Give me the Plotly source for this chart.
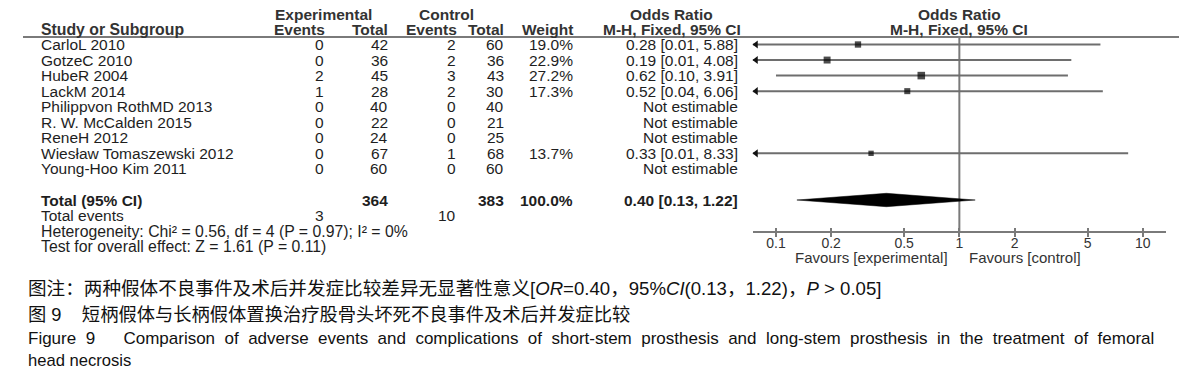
import plotly.graph_objects as go
import math

W, H = 1179, 386

# ---------------- data ----------------
studies = ["CarloL 2010", "GotzeC 2010", "HubeR 2004", "LackM 2014",
           "Philippvon RothMD 2013", "R. W. McCalden 2015", "ReneH 2012",
           "Wiesław Tomaszewski 2012", "Young-Hoo Kim 2011"]
exp_events = [0, 0, 2, 1, 0, 0, 0, 0, 0]
exp_total = [42, 36, 45, 28, 40, 22, 24, 67, 60]
ctrl_events = [2, 2, 3, 2, 0, 0, 0, 1, 0]
ctrl_total = [60, 36, 43, 30, 40, 21, 25, 68, 60]
weights = [19.0, 22.9, 27.2, 17.3, None, None, None, 13.7, None]
odds_ratio = [0.28, 0.19, 0.62, 0.52, None, None, None, 0.33, None]
ci_low = [0.01, 0.01, 0.10, 0.04, None, None, None, 0.01, None]
ci_high = [5.88, 4.08, 3.91, 6.06, None, None, None, 8.33, None]

total_exp, total_ctrl = 364, 383
total_events_exp, total_events_ctrl = 3, 10
pooled_or, pooled_lo, pooled_hi = 0.40, 0.13, 1.22
heterogeneity = "Heterogeneity: Chi² = 0.56, df = 4 (P = 0.97); I² = 0%"
overall = "Test for overall effect: Z = 1.61 (P = 0.11)"

tick_vals = [0.1, 0.2, 0.5, 1, 2, 5, 10]
tick_text = ["0.1", "0.2", "0.5", "1", "2", "5", "10"]

caption_cn = "图注：两种假体不良事件及术后并发症比较差异无显著性意义[<i>OR</i>=0.40，95%<i>CI</i>(0.13，1.22)，<i>P</i> > 0.05]"
caption_cn2 = "图 9    短柄假体与长柄假体置换治疗股骨头坏死不良事件及术后并发症比较"
caption_en = "Figure 9    Comparison of adverse events and complications of short-stem prosthesis and long-stem prosthesis in the treatment of femoral"
caption_en2 = "head necrosis"

# ---------------- layout helpers ----------------
FONT = "Liberation Sans, Arial, Noto Sans CJK SC, sans-serif"
TXT = "#1e1e1e"
HDR = "#333333"
GRAY = "#7a7a7a"
FS = 15.5
FH = 15.5

ROW0_PX, ROW_H = 44.5, 15.55          # pixel y of first study row, row spacing
def px2row(py):
    return (py - ROW0_PX) / ROW_H

X_LEFT, X_RIGHT = 752.7, 1166.0        # plot x extent (pixels)
LOG_MIN, LOG_MAX = -1.127, 1.127
AXIS_PX = 231.7

def fx(x):
    return x / W

def fy(y):
    return 1 - y / H

fig = go.Figure()

# reference line at OR = 1
fig.add_trace(go.Scatter(x=[1, 1], y=[px2row(37), px2row(AXIS_PX)], mode="lines",
                         line=dict(color=GRAY, width=2), hoverinfo="skip", showlegend=False))

# CI lines (clipped to axis range with arrow)
xmin = 10 ** LOG_MIN
lx, ly, ax, ay = [], [], [], []
for i, (lo, hi) in enumerate(zip(ci_low, ci_high)):
    if lo is None:
        continue
    lx += [max(lo, xmin), hi, None]
    ly += [i, i, None]
    if lo < xmin:
        ax.append(10 ** (LOG_MIN + 0.018))
        ay.append(i)
fig.add_trace(go.Scatter(x=lx, y=ly, mode="lines", line=dict(color="#6e6e6e", width=2),
                         hoverinfo="skip", showlegend=False, cliponaxis=False))
fig.add_trace(go.Scatter(x=ax, y=ay, mode="markers",
                         marker=dict(symbol="triangle-left", size=7, color="#111"),
                         hoverinfo="skip", showlegend=False, cliponaxis=False))

# study boxes
bx, by, bs = [], [], []
for i, (o, w) in enumerate(zip(odds_ratio, weights)):
    if o is None:
        continue
    bx.append(o)
    by.append(i)
    bs.append(1.45 * math.sqrt(w))
fig.add_trace(go.Scatter(x=bx, y=by, mode="markers",
                         marker=dict(symbol="square", size=bs, color="#000", line=dict(width=0)),
                         hoverinfo="skip", showlegend=False))

# pooled diamond
total_row = 10
dh = 0.43
fig.add_trace(go.Scatter(x=[pooled_lo, pooled_or, pooled_hi, pooled_or, pooled_lo],
                         y=[total_row, total_row - dh, total_row, total_row + dh, total_row],
                         mode="lines", fill="toself", fillcolor="#000",
                         line=dict(color="#000", width=0.5), hoverinfo="skip", showlegend=False))

# ticks crossing the axis (overlay axis with inside ticks)
fig.add_trace(go.Scatter(x=[1], y=[None], xaxis="x2", showlegend=False, hoverinfo="skip"))

annotations = []
def txt(x, row, s, anchor="left", size=FS, color=TXT, yref="y"):
    annotations.append(dict(x=fx(x), y=row, xref="paper", yref=yref, text=s, showarrow=False,
                            xanchor=anchor, yanchor="middle",
                            font=dict(family=FONT, size=size, color=color)))

# headers
h1, h2 = px2row(14), px2row(29.2)
txt(323, h1, "<b>Experimental</b>", "center", size=FH, color=HDR)
txt(446, h1, "<b>Control</b>", "center", size=FH, color=HDR)
txt(671, h1, "<b>Odds Ratio</b>", "center", size=FH, color=HDR)
txt(959, h1, "<b>Odds Ratio</b>", "center", size=FH, color=HDR)
txt(39, h2, "<b>Study or Subgroup</b>", "left", size=15.8, color=HDR)
txt(327, h2, "<b>Events</b>", "right", size=FH, color=HDR)
txt(390, h2, "<b>Total</b>", "right", size=FH, color=HDR)
txt(459, h2, "<b>Events</b>", "right", size=FH, color=HDR)
txt(506, h2, "<b>Total</b>", "right", size=FH, color=HDR)
txt(575, h2, "<b>Weight</b>", "right", size=FH, color=HDR)
txt(672, h2, "<b>M-H, Fixed, 95% CI</b>", "center", size=FH, color=HDR)
txt(959, h2, "<b>M-H, Fixed, 95% CI</b>", "center", size=FH, color=HDR)

# study rows
for i, s in enumerate(studies):
    txt(39, i, s)
    txt(326, i, str(exp_events[i]), "right")
    txt(390, i, str(exp_total[i]), "right")
    txt(458, i, str(ctrl_events[i]), "right")
    txt(506, i, str(ctrl_total[i]), "right")
    if weights[i] is not None:
        txt(575, i, f"{weights[i]:.1f}%", "right")
        txt(740, i, f"{odds_ratio[i]:.2f} [{ci_low[i]:.2f}, {ci_high[i]:.2f}]", "right")
    else:
        txt(740, i, "Not estimable", "right")

# totals
txt(39, total_row, "<b>Total (95% CI)</b>")
txt(390, total_row, f"<b>{total_exp}</b>", "right")
txt(506, total_row, f"<b>{total_ctrl}</b>", "right")
txt(575, total_row, "<b>100.0%</b>", "right")
txt(740, total_row, f"<b>{pooled_or:.2f} [{pooled_lo:.2f}, {pooled_hi:.2f}]</b>", "right")
txt(39, 11, "Total events")
txt(326, 11, str(total_events_exp), "right")
txt(458, 11, str(total_events_ctrl), "right")
txt(39, 12, heterogeneity, size=15.8)
txt(39, 13, overall, size=15.8)

# favours labels
fav_row = px2row(257.5)
txt(950, fav_row, "Favours [experimental]", "right", size=15, color="#333")
txt(967, fav_row, "Favours [control]", "left", size=15, color="#333")

# captions (first English line is justified in the reference -> widened word gaps)
NB = "\u00a0"
caption_en_just = caption_en.replace("    ", NB * 6).replace(" ", " " + NB)
caption_cn2_sp = caption_cn2.replace("    ", NB * 4)
for ypx, s, sz in [(288, caption_cn, 18.6), (314, caption_cn2_sp, 18.3),
                   (338.5, caption_en_just, 17), (360.5, caption_en2, 16.6)]:
    annotations.append(dict(x=fx(26), y=fy(ypx), xref="paper", yref="paper", text=s, showarrow=False,
                            xanchor="left", yanchor="middle",
                            font=dict(family=FONT, size=sz, color="#111")))

axis_pos = fy(AXIS_PX)
xaxis_common = dict(type="log", range=[LOG_MIN, LOG_MAX], domain=[fx(X_LEFT), fx(X_RIGHT)],
                    anchor="free", position=axis_pos, showgrid=False, zeroline=False,
                    tickmode="array", tickvals=tick_vals, ticklen=4, tickwidth=1.5, tickcolor=GRAY)

fig.update_layout(
    width=W, height=H, margin=dict(l=0, r=0, t=0, b=0),
    paper_bgcolor="white", plot_bgcolor="rgba(0,0,0,0)",
    showlegend=False,
    xaxis=dict(**xaxis_common, ticktext=tick_text, ticks="outside", showline=True,
               linecolor=GRAY, linewidth=2, ticklabelstandoff=-6,
               tickfont=dict(family=FONT, size=14, color="#333")),
    xaxis2=dict(**xaxis_common, overlaying="x", ticks="inside", showline=False,
                showticklabels=False),
    yaxis=dict(range=[px2row(H), px2row(0)], domain=[0, 1], visible=False,
               anchor="free", position=0),
    annotations=annotations,
    shapes=[dict(type="line", xref="paper", yref="paper", x0=fx(23), x1=1, y0=fy(37), y1=fy(37),
                 line=dict(color=GRAY, width=2))],
)

fig.write_html("out.html", config={"displayModeBar": False},
               post_script="document.body.style.margin='0';document.body.style.overflow='hidden';")
